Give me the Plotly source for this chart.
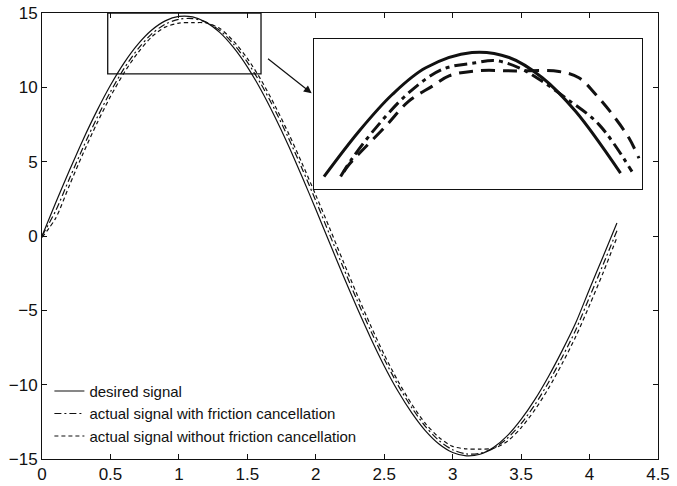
import plotly.graph_objects as go

# ---- main data ----
t = [0.0, 0.1, 0.2, 0.3, 0.4, 0.5, 0.6, 0.7, 0.8, 0.9, 1.0, 1.1, 1.2, 1.3, 1.4,
     1.5, 1.6, 1.7, 1.8, 1.9, 2.0, 2.1, 2.2, 2.3, 2.4, 2.5, 2.6, 2.7, 2.8, 2.9,
     3.0, 3.1, 3.2, 3.3, 3.4, 3.5, 3.6, 3.7, 3.8, 3.9, 4.0, 4.1, 4.2]

desired = [0.00, 2.23, 4.40, 6.48, 8.40, 10.14, 11.65, 12.89, 13.84, 14.47, 14.77,
           14.74, 14.37, 13.68, 12.67, 11.38, 9.82, 8.04, 6.09, 3.98, 1.80, -0.44,
           -2.65, -4.80, -6.84, -8.74, -10.43, -11.88, -13.09, -13.99, -14.56,
           -14.79, -14.68, -14.21, -13.43, -12.34, -11.01, -9.45, -7.71, -5.82,
           -3.56, -1.36, 0.87]

with_friction = [0.00, 1.70, 3.85, 5.95, 7.92, 9.70, 11.27, 12.57, 13.58, 14.25,
                 14.58, 14.62, 14.38, 13.82, 12.90, 11.70, 10.22, 8.50, 6.60, 4.53,
                 2.37, 0.12, -2.10, -4.28, -6.35, -8.28, -10.02, -11.53, -12.80,
                 -13.76, -14.38, -14.66, -14.62, -14.28, -13.60, -12.62, -11.36,
                 -9.85, -8.15, -6.30, -4.10, -1.90, 0.35]

without_friction = [-0.10, 1.20, 3.40, 5.55, 7.55, 9.38, 10.98, 12.32, 13.38, 14.05,
                    14.32, 14.35, 14.33, 13.95, 13.10, 11.95, 10.50, 8.80, 6.92, 4.88,
                    2.75, 0.55, -1.70, -3.90, -6.00, -7.98, -9.75, -11.30, -12.60,
                    -13.55, -14.15, -14.32, -14.33, -14.28, -13.80, -12.90, -11.70,
                    -10.25, -8.58, -6.75, -4.65, -2.45, -0.10]

legend_names = ["desired signal",
                "actual signal with friction cancellation",
                "actual signal without friction cancellation"]

x_ticks = [0, 0.5, 1, 1.5, 2, 2.5, 3, 3.5, 4, 4.5]
x_tick_labels = ["0", "0.5", "1", "1.5", "2", "2.5", "3", "3.5", "4", "4.5"]
y_ticks = [-15, -10, -5, 0, 5, 10, 15]
y_tick_labels = ["\u221215", "\u221210", "\u22125", "0", "5", "10", "15"]

# zoom window (main axes data units)
zoom_x = [0.48, 1.60]
zoom_y = [10.9, 15.0]

# ---- inset (magnified view) data ----
zoom_t_des = [0.550, 0.666, 0.776, 0.887, 1.040, 1.163, 1.273, 1.383, 1.532]
zoom_des = [10.87, 12.33, 13.51, 14.37, 14.86, 14.70, 14.05, 12.97, 10.98]
zoom_t_with = [0.605, 0.643, 0.721, 0.831, 0.942, 1.052, 1.118, 1.196, 1.270,
               1.350, 1.460, 1.570]
zoom_with = [10.87, 11.45, 12.43, 13.57, 14.32, 14.53, 14.60, 14.37, 13.95,
             13.40, 12.55, 11.03]
zoom_t_without = [0.616, 0.633, 0.754, 0.831, 0.909, 0.964, 1.052, 1.185, 1.328,
                  1.394, 1.450, 1.505, 1.560, 1.593]
zoom_without = [11.03, 11.26, 12.49, 13.30, 13.78, 14.11, 14.27, 14.27, 14.25,
                14.05, 13.51, 12.87, 12.11, 11.46]

FONT = "Liberation Sans, Arial, sans-serif"
INK = "#111111"

fig = go.Figure()

main_dash = ["solid", "7px,3px,2px,3px", "4px,3px"]
main_y = [desired, with_friction, without_friction]
for name, ys, d in zip(legend_names, main_y, main_dash):
    fig.add_trace(go.Scatter(x=t, y=ys, mode="lines", name=name,
                             line=dict(color=INK, width=1.2, dash=d, shape="spline", smoothing=0.8),
                             xaxis="x", yaxis="y"))

inset_x = [zoom_t_des, zoom_t_with, zoom_t_without]
inset_y = [zoom_des, zoom_with, zoom_without]
inset_dash = ["solid", "13px,5px,4px,5px", "14px,8px"]
for xs, ys, d in zip(inset_x, inset_y, inset_dash):
    fig.add_trace(go.Scatter(x=xs, y=ys, mode="lines", showlegend=False,
                             line=dict(color=INK, width=3, dash=d, shape="spline", smoothing=1.0),
                             xaxis="x2", yaxis="y2", hoverinfo="skip"))

fig.add_shape(type="rect", xref="x", yref="y", x0=zoom_x[0], x1=zoom_x[1],
              y0=zoom_y[0], y1=zoom_y[1], line=dict(color=INK, width=1.3))

fig.add_annotation(xref="x", yref="y", axref="x", ayref="y",
                   x=1.97, y=9.6, ax=1.64, ay=12.0, text="", showarrow=True,
                   arrowhead=2, arrowsize=1.3, arrowwidth=1.2, arrowcolor=INK)

fig.update_layout(
    width=677, height=486,
    margin=dict(l=42, r=19, t=13, b=27, autoexpand=False),
    paper_bgcolor="white", plot_bgcolor="white",
    font=dict(family=FONT, color=INK),
    showlegend=True,
    legend=dict(x=0.012, y=0.014, xanchor="left", yanchor="bottom",
                bgcolor="rgba(0,0,0,0)", borderwidth=0,
                font=dict(size=15, family=FONT, color=INK),
                tracegroupgap=0, itemwidth=30),
    xaxis=dict(domain=[0, 1], range=[0, 4.5], tickvals=x_ticks, ticktext=x_tick_labels,
               ticks="inside", ticklen=5, tickcolor=INK, showline=True, linecolor=INK,
               linewidth=1, mirror="ticks", showgrid=False, zeroline=False, automargin=False,
               ticklabeloverflow="allow",
               tickfont=dict(size=17, family=FONT, color=INK)),
    yaxis=dict(domain=[0, 1], range=[-15, 15], tickvals=y_ticks, ticktext=y_tick_labels,
               ticks="inside", ticklen=5, tickcolor=INK, showline=True, linecolor=INK,
               linewidth=1, mirror="ticks", showgrid=False, zeroline=False, automargin=False,
               ticklabeloverflow="allow",
               tickfont=dict(size=17, family=FONT, color=INK)),
    xaxis2=dict(domain=[0.4416, 0.974], anchor="y2", range=[0.517, 1.603],
                showticklabels=False, ticks="", showline=True, linecolor=INK,
                linewidth=1.2, mirror=True, showgrid=False, zeroline=False),
    yaxis2=dict(domain=[0.606, 0.942], anchor="x2", range=[10.48, 15.30],
                showticklabels=False, ticks="", showline=True, linecolor=INK,
                linewidth=1.2, mirror=True, showgrid=False, zeroline=False),
)

# remove the browser's default 8px body margin so the figure sits at the window's corner
fig.write_html("out.html", config={"displayModeBar": False},
               post_script="document.body.style.margin='0';")
